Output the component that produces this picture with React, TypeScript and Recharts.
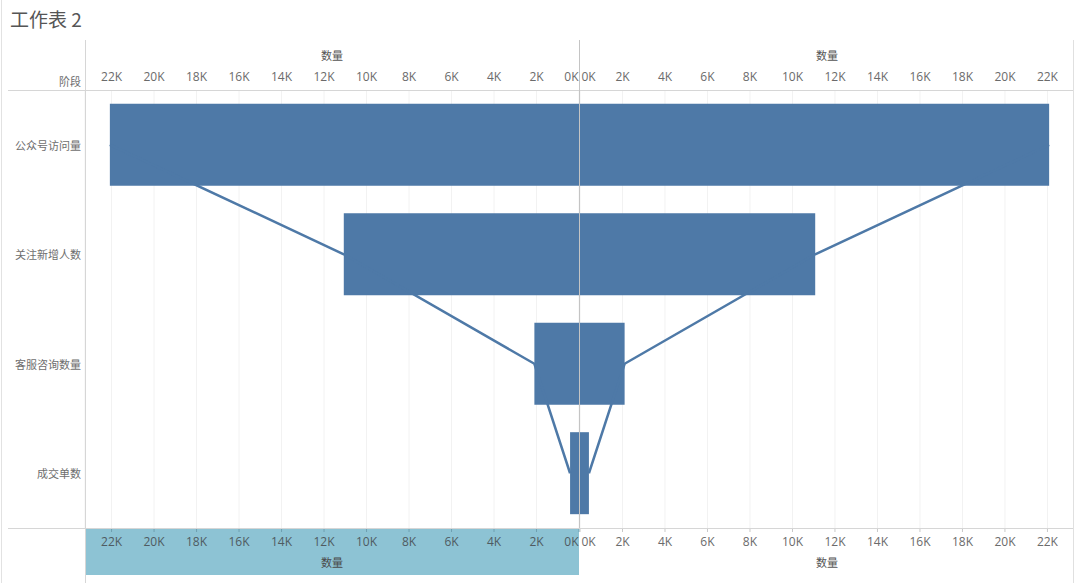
import React from 'react';
import { ComposedChart, Bar, Line, XAxis, YAxis, CartesianGrid } from 'recharts';

const stages = ['公众号访问量', '关注新增人数', '客服咨询数量', '成交单数'];
const counts = [22080, 11070, 2100, 420];
const axisTicks = [0, 2000, 4000, 6000, 8000, 10000, 12000, 14000, 16000, 18000, 20000, 22000];
const axisMax = 23250;

const data = stages.map((stage, i) => ({ stage, value: counts[i] }));

const BAR = '#4e79a7';
const TICK_FONT = '"Open Sans", "Noto Sans", sans-serif';
const CJK = '"Noto Sans CJK SC", sans-serif';

const fmt = (v: number) => `${Math.round(v / 1000)}K`;

const makeTick = (y: number, side: 'left' | 'right', color: string) => (props: any) => {
  const { x, payload } = props;
  const v = payload.value;
  let anchor: 'middle' | 'end' | 'start' = 'middle';
  let tx = x;
  if (v === 0) {
    if (side === 'left') { anchor = 'end'; tx = x - 0.5; } else { anchor = 'start'; tx = x + 1.5; }
  }
  return (
    <text x={tx} y={y} textAnchor={anchor} dominantBaseline="central" fill={color} fontSize={12} fontFamily={TICK_FONT}>
      {fmt(v)}
    </text>
  );
};

const rowTick = (props: any) => {
  const { x, y, payload } = props;
  return (
    <text x={x} y={y} textAnchor="end" dominantBaseline="central" fill="#6e6e6e" fontSize={11} fontFamily={CJK}>
      {payload.value}
    </text>
  );
};

function Pane({ side }: { side: 'left' | 'right' }) {
  const isLeft = side === 'left';
  return (
    <ComposedChart
      layout="vertical"
      width={isLeft ? 580 : 494}
      height={583}
      data={data}
      margin={{ top: 40, right: isLeft ? 1 : 0, bottom: 0, left: isLeft ? 8 : 0 }}
      barCategoryGap="12.5%"
    >
      <CartesianGrid xAxisId="top" horizontal={false} stroke="#f2f2f2" />
      <XAxis
        xAxisId="top"
        orientation="top"
        type="number"
        domain={[0, axisMax]}
        ticks={axisTicks}
        reversed={isLeft}
        height={50}
        axisLine={false}
        tickLine={false}
        interval={0}
        tick={makeTick(76, side, '#6b6b6b')}
      />
      <XAxis
        xAxisId="bottom"
        orientation="bottom"
        type="number"
        domain={[0, axisMax]}
        ticks={axisTicks}
        reversed={isLeft}
        height={55}
        axisLine={false}
        tickLine={{ stroke: isLeft ? '#6f9fb0' : '#c8c8c8' }}
        tickSize={4}
        interval={0}
        tick={makeTick(541, side, isLeft ? '#4f5b62' : '#6b6b6b')}
      />
      <YAxis
        type="category"
        dataKey="stage"
        width={77}
        hide={!isLeft}
        axisLine={false}
        tickLine={false}
        tickSize={0}
        tickMargin={4}
        tick={rowTick}
      />
      <Line
        xAxisId="bottom"
        dataKey="value"
        type="linear"
        stroke="transparent"
        strokeOpacity={0}
        dot={false}
        activeDot={false}
        isAnimationActive={false}
      />
      <Line
        xAxisId="top"
        dataKey="value"
        type="linear"
        stroke={BAR}
        strokeWidth={2.5}
        dot={false}
        isAnimationActive={false}
      />
      <Bar xAxisId="top" dataKey="value" fill={BAR} isAnimationActive={false} />
    </ComposedChart>
  );
}

const abs = (s: React.CSSProperties): React.CSSProperties => ({ position: 'absolute', ...s });

export default function App() {
  return (
    <div style={abs({ left: 0, top: 0, width: 1080, height: 583, background: '#fff', overflow: 'hidden' })}>
      <div style={abs({ left: 85, top: 529, width: 494, height: 46, background: '#8dc3d4' })} />
      <div style={abs({ left: 0, top: 0 })}>
        <Pane side="left" />
      </div>
      <div style={abs({ left: 580, top: 0 })}>
        <Pane side="right" />
      </div>
      {/* frame lines */}
      <div style={abs({ left: 1, top: 0, width: 1, height: 583, background: '#e2e2e2' })} />
      <div style={abs({ left: 8, top: 89.5, width: 1066, height: 1, background: '#d6d6d6' })} />
      <div style={abs({ left: 8, top: 527.5, width: 1066, height: 1, background: '#d6d6d6' })} />
      <div style={abs({ left: 85, top: 40, width: 1, height: 543, background: '#d6d6d6' })} />
      <div style={abs({ left: 579, top: 40, width: 1, height: 488, background: '#c4c4c4' })} />
      <div style={abs({ left: 1073, top: 40, width: 1, height: 543, background: '#e0e0e0' })} />
      {/* texts */}
      <div style={abs({ left: 10, top: 6, fontSize: 19, color: '#555', fontFamily: CJK, lineHeight: '26px', whiteSpace: 'nowrap' })}>工作表 2</div>
      <div style={abs({ left: 40, top: 73, width: 41, textAlign: 'right', fontSize: 11, color: '#6e6e6e', fontFamily: CJK, lineHeight: '16px' })}>阶段</div>
      <div style={abs({ left: 85, top: 47, width: 494, textAlign: 'center', fontSize: 11, color: '#555', fontFamily: CJK, lineHeight: '16px' })}>数量</div>
      <div style={abs({ left: 580, top: 47, width: 494, textAlign: 'center', fontSize: 11, color: '#555', fontFamily: CJK, lineHeight: '16px' })}>数量</div>
      <div style={abs({ left: 85, top: 554, width: 494, textAlign: 'center', fontSize: 11, color: '#4a4a4a', fontFamily: CJK, lineHeight: '16px' })}>数量</div>
      <div style={abs({ left: 580, top: 554, width: 494, textAlign: 'center', fontSize: 11, color: '#555', fontFamily: CJK, lineHeight: '16px' })}>数量</div>
    </div>
  );
}
